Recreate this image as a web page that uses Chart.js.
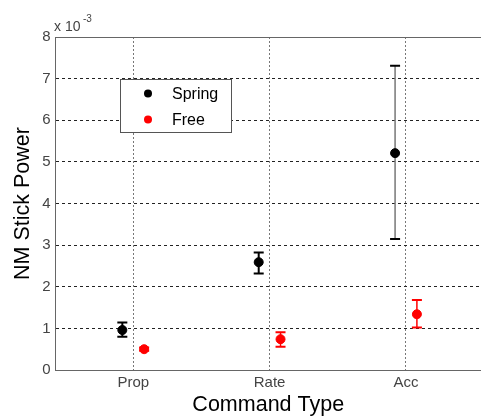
<!DOCTYPE html>
<html>
<head>
<meta charset="utf-8">
<script src="https://cdn.jsdelivr.net/npm/chart.js@4"></script>
<style>
  html, body { margin: 0; padding: 0; background: #fff; }
  #wrap { width: 481px; height: 418px; }
</style>
</head>
<body>
<div id="wrap"><canvas id="chart" width="481" height="418"></canvas></div>
<script>
// values in units of 1e-3
const categories = ['Prop', 'Rate', 'Acc'];
const springMean = [0.96, 2.59, 5.21];
const springLow = [0.80, 2.32, 3.15];
const springHigh = [1.14, 2.82, 7.31];
const freeMean = [0.50, 0.74, 1.34];
const freeLow = [0.46, 0.56, 1.02];
const freeHigh = [0.54, 0.905, 1.68];
const seriesOffset = 0.08;

function toPoints(means, lows, highs, shift) {
    return means.map((v, i) => ({ x: i + 1 + shift, y: v, lo: lows[i], hi: highs[i] }));
}

const FONT = "'Liberation Sans', Arial, sans-serif";

// error bars drawn through the chart scales
const errorBars = {
    id: 'errorBars',
    beforeDatasetsDraw(chart) {
        const ctx = chart.ctx;
        const xs = chart.scales.x, ys = chart.scales.y;
        chart.data.datasets.forEach((ds) => {
            ds.data.forEach((p, i) => {
                const px = xs.getPixelForValue(p.x);
                const top = ys.getPixelForValue(p.hi);
                const bot = ys.getPixelForValue(p.lo);
                const lineColor = ds.errColors ? ds.errColors[i] : ds.errColor;
                ctx.save();
                ctx.strokeStyle = lineColor;
                ctx.lineWidth = ds.errWidth[i];
                ctx.beginPath();
                ctx.moveTo(px, top);
                ctx.lineTo(px, bot);
                ctx.stroke();
                ctx.strokeStyle = ds.errColor;
                ctx.lineWidth = 2;
                ctx.beginPath();
                ctx.moveTo(px - 5, top);
                ctx.lineTo(px + 5, top);
                ctx.moveTo(px - 5, bot);
                ctx.lineTo(px + 5, bot);
                ctx.stroke();
                ctx.restore();
            });
        });
    }
};

// top border, exponent label and boxed legend
const decorations = {
    id: 'decorations',
    afterDraw(chart) {
        const ctx = chart.ctx;
        const a = chart.chartArea;
        ctx.save();
        ctx.strokeStyle = '#666';
        ctx.lineWidth = 1;
        ctx.beginPath();
        ctx.moveTo(a.left, a.top + 0.5);
        ctx.lineTo(a.right, a.top + 0.5);
        ctx.stroke();

        ctx.fillStyle = '#444';
        ctx.font = '14px ' + FONT;
        ctx.textBaseline = 'alphabetic';
        ctx.textAlign = 'left';
        ctx.fillText('x 10', 54, 31);
        ctx.font = '10px ' + FONT;
        ctx.fillText('-3', 83, 22);

        // legend
        const lx = 120.5, ly = 79.5, lw = 111, lh = 53;
        ctx.fillStyle = '#fff';
        ctx.fillRect(lx, ly, lw, lh);
        ctx.strokeStyle = '#555';
        ctx.lineWidth = 1;
        ctx.strokeRect(lx, ly, lw, lh);
        ctx.font = '16px ' + FONT;
        ctx.textBaseline = 'middle';
        chart.data.datasets.forEach((ds, i) => {
            const y = 93.5 + i * 26;
            ctx.fillStyle = ds.backgroundColor;
            ctx.beginPath();
            ctx.arc(148, y, 4, 0, Math.PI * 2);
            ctx.fill();
            ctx.fillStyle = '#000';
            ctx.fillText(ds.label, 172, y + 1);
        });
        ctx.restore();
    }
};

new Chart(document.getElementById('chart'), {
    type: 'scatter',
    data: {
        datasets: [
            {
                label: 'Spring',
                data: toPoints(springMean, springLow, springHigh, -seriesOffset),
                backgroundColor: '#000',
                borderColor: '#000',
                pointRadius: 4.5,
                errColor: '#000',
                errColors: ['#000', '#000', '#777'],
                errWidth: [2, 2, 1.5]
            },
            {
                label: 'Free',
                data: toPoints(freeMean, freeLow, freeHigh, seriesOffset),
                backgroundColor: '#ff0000',
                borderColor: '#ff0000',
                pointRadius: 4.5,
                errColor: '#ff0000',
                errWidth: [1.5, 1.5, 1.5]
            }
        ]
    },
    options: {
        responsive: false,
        animation: false,
        layout: { autoPadding: false, padding: { top: 37, right: 0, left: 0, bottom: 0 } },
        plugins: {
            legend: { display: false },
            tooltip: { enabled: false }
        },
        scales: {
            x: {
                type: 'linear',
                min: 0.43,
                max: 3.55,
                afterBuildTicks(scale) {
                    scale.ticks = categories.map((c, i) => ({ value: i + 1 }));
                },
                afterFit(scale) { scale.height = 48; },
                ticks: {
                    callback: (v) => categories[Math.round(v) - 1] || '',
                    color: '#444',
                    font: { family: FONT, size: 15 },
                    padding: 4,
                    autoSkip: false,
                    maxRotation: 0
                },
                grid: {
                    color: '#777',
                    lineWidth: 1,
                    drawTicks: false
                },
                border: { display: true, color: '#666', dash: [2, 2], width: 1 },
                title: {
                    display: true,
                    text: 'Command Type',
                    color: '#000',
                    font: { family: FONT, size: 21.5 },
                    padding: { top: 0, bottom: 0 }
                }
            },
            y: {
                min: 0,
                max: 8,
                afterFit(scale) { scale.width = 55.5; },
                ticks: {
                    stepSize: 1,
                    color: '#444',
                    font: { family: FONT, size: 15 },
                    padding: 5
                },
                grid: {
                    color: (c) => (c.tick.value === 0 || c.tick.value === 8) ? 'rgba(0,0,0,0)' : '#222',
                    lineWidth: 1,
                    drawTicks: false
                },
                border: { display: true, color: '#666', dash: [3, 3], width: 1 },
                title: {
                    display: true,
                    text: 'NM Stick Power',
                    color: '#000',
                    font: { family: FONT, size: 21.5 },
                    padding: { top: 10, bottom: 4 }
                }
            }
        }
    },
    plugins: [errorBars, decorations]
});
</script>
</body>
</html>
